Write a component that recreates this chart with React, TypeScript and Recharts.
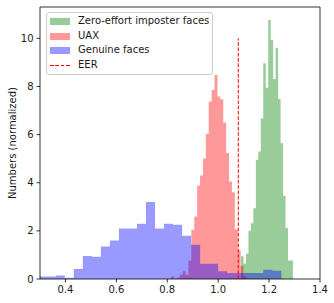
import React from 'react';
import { ComposedChart, Area, XAxis, YAxis, ReferenceLine } from 'recharts';

// Zero-effort imposter faces (green) – bin left edges, heights, last edge
const impostorEdges = [1.0898, 1.0995, 1.1092, 1.1189, 1.1286, 1.1383, 1.148, 1.1577, 1.1674, 1.1771, 1.1868, 1.1965, 1.2063, 1.216, 1.2257, 1.2354, 1.2451, 1.2548, 1.2645, 1.2742, 1.2839];
const impostorHeights = [0.94, 0.64, 1.05, 2.0, 2.32, 2.94, 4.95, 5.3, 6.68, 8.96, 7.95, 10.76, 9.93, 8.31, 9.61, 7.48, 5.64, 3.46, 2.12, 0.77, 0.77];
const impostorEnd = 1.2936;

// UAX (red)
const uaxEdges = [0.8147, 0.8261, 0.8375, 0.8489, 0.8603, 0.8717, 0.8831, 0.8945, 0.9059, 0.9173, 0.9287, 0.9401, 0.9515, 0.9629, 0.9743, 0.9857, 0.9971, 1.0085, 1.0199, 1.0313, 1.0427, 1.0541, 1.0655, 1.0769, 1.0883, 1.0997];
const uaxHeights = [0.1, 0, 0.05, 0.18, 0.32, 0.18, 0.77, 2.05, 2.6, 3.87, 4.3, 5.0, 6.03, 7.37, 7.85, 8.47, 7.58, 7.47, 6.5, 5.23, 4.05, 3.6, 2.07, 1.19, 0.55, 0.1];
const uaxEnd = 1.1111;

// Genuine faces (blue)
const genuineEdges = [0.291, 0.3265, 0.3619, 0.3974, 0.4328, 0.4683, 0.5037, 0.5392, 0.5746, 0.6101, 0.6455, 0.681, 0.7164, 0.7519, 0.7873, 0.8228, 0.8582, 0.8937, 0.9291, 0.9646, 1.0, 1.0355, 1.0709, 1.1064, 1.1418, 1.1773, 1.2127];
const genuineHeights = [0.1, 0.1, 0.15, 0.05, 0.42, 0.96, 0.92, 1.35, 1.6, 2.1, 2.1, 2.3, 3.2, 2.1, 2.3, 2.25, 1.8, 1.42, 0.63, 0.63, 0.32, 0.25, 0.25, 0.25, 0.25, 0.38, 0.34];
const genuineEnd = 1.2482;

const eerThreshold = 1.079;
const eerTop = 10;

const xTicks = [0.4, 0.6, 0.8, 1.0, 1.2, 1.4];
const yTicks = [0, 2, 4, 6, 8, 10];
const xDomain = [0.3, 1.4];
const yDomain = [0, 11.3];

const seriesNames = ['Zero-effort imposter faces', 'UAX', 'Genuine faces', 'EER'];
const yTitle = 'Numbers (normalized)';

const FONT = "'DejaVu Sans', sans-serif";
const TEXT = '#1a1a1a';

function toSteps(edges: number[], heights: number[], end: number) {
  const pts = edges.map((x, i) => ({ x, y: heights[i] }));
  pts.push({ x: end, y: 0 });
  return pts;
}

const impostorData = toSteps(impostorEdges, impostorHeights, impostorEnd);
const uaxData = toSteps(uaxEdges, uaxHeights, uaxEnd);
const genuineData = toSteps(genuineEdges, genuineHeights, genuineEnd);

const YTitle = (props: any) => {
  const vb = props.viewBox || { x: 0, y: 7, width: 40, height: 272 };
  const cx = vb.x + 16;
  const cy = vb.y + vb.height / 2;
  return (
    <text x={cx} y={cy} transform={`rotate(-90 ${cx} ${cy})`} textAnchor="middle" fontSize={10} fontFamily={FONT} fill={TEXT}>
      {yTitle}
    </text>
  );
};

const Swatch = ({ color }: { color: string }) => (
  <div style={{ width: 20, height: 7, background: color }} />
);

const DashSwatch = () => (
  <div style={{ width: 20, height: 7, display: 'flex', alignItems: 'center' }}>
    <div
      style={{
        width: 20,
        height: 1,
        background: 'repeating-linear-gradient(to right, #ff0000 0px, #ff0000 3.7px, transparent 3.7px, transparent 5.3px)',
      }}
    />
  </div>
);

const legendItems = [
  { name: seriesNames[0], node: <Swatch color="#99cc99" /> },
  { name: seriesNames[1], node: <Swatch color="#ff9999" /> },
  { name: seriesNames[2], node: <Swatch color="#9999ff" /> },
  { name: seriesNames[3], node: <DashSwatch /> },
];

export default function App() {
  return (
    <div style={{ position: 'absolute', left: 0, top: 0, width: 334, height: 303, background: '#fff' }}>
      <ComposedChart width={334} height={303} margin={{ top: 7, right: 14, bottom: 0, left: 0 }}>
        <XAxis
          dataKey="x"
          type="number"
          domain={xDomain}
          allowDataOverflow
          ticks={xTicks}
          tickFormatter={(v: number) => v.toFixed(1)}
          height={24}
          tickSize={3.5}
          tickMargin={3.5}
          axisLine={{ stroke: '#000', strokeWidth: 0.8 }}
          tickLine={{ stroke: '#000', strokeWidth: 0.8 }}
          tick={{ fill: TEXT, fontSize: 10, fontFamily: FONT }}
        />
        <YAxis
          type="number"
          domain={yDomain}
          allowDataOverflow
          ticks={yTicks}
          width={40}
          tickSize={3.5}
          tickMargin={3}
          axisLine={{ stroke: '#000', strokeWidth: 0.8 }}
          tickLine={{ stroke: '#000', strokeWidth: 0.8 }}
          tick={{ fill: TEXT, fontSize: 10, fontFamily: FONT }}
          label={<YTitle />}
        />
        <Area
          data={impostorData}
          dataKey="y"
          name={seriesNames[0]}
          type="stepAfter"
          fill="#008000"
          fillOpacity={0.4}
          stroke="none"
          dot={false}
          activeDot={false}
          isAnimationActive={false}
        />
        <Area
          data={uaxData}
          dataKey="y"
          name={seriesNames[1]}
          type="stepAfter"
          fill="#ff0000"
          fillOpacity={0.4}
          stroke="none"
          dot={false}
          activeDot={false}
          isAnimationActive={false}
        />
        <Area
          data={genuineData}
          dataKey="y"
          name={seriesNames[2]}
          type="stepAfter"
          fill="#0000ff"
          fillOpacity={0.4}
          stroke="none"
          dot={false}
          activeDot={false}
          isAnimationActive={false}
        />
        <ReferenceLine
          segment={[{ x: eerThreshold, y: 0 }, { x: eerThreshold, y: eerTop }]}
          stroke="#ff0000"
          strokeWidth={1}
          strokeDasharray="3.7 1.6"
          ifOverflow="visible"
        />
        <ReferenceLine y={yDomain[1]} stroke="#000" strokeWidth={0.8} ifOverflow="visible" />
        <ReferenceLine x={xDomain[1]} stroke="#000" strokeWidth={0.8} ifOverflow="visible" />
      </ComposedChart>
      <div
        style={{
          position: 'absolute',
          left: 46,
          top: 12,
          width: 167,
          height: 63,
          boxSizing: 'border-box',
          border: '1px solid #cccccc',
          borderRadius: 3,
          background: 'rgba(255,255,255,0.8)',
          paddingTop: 1,
          fontFamily: FONT,
          fontSize: 10,
          color: TEXT,
        }}
      >
        {legendItems.map((it) => (
          <div key={it.name} style={{ display: 'flex', alignItems: 'center', height: 14.7, paddingLeft: 3 }}>
            {it.node}
            <span style={{ marginLeft: 8, lineHeight: '14.7px', whiteSpace: 'nowrap' }}>{it.name}</span>
          </div>
        ))}
      </div>
    </div>
  );
}
